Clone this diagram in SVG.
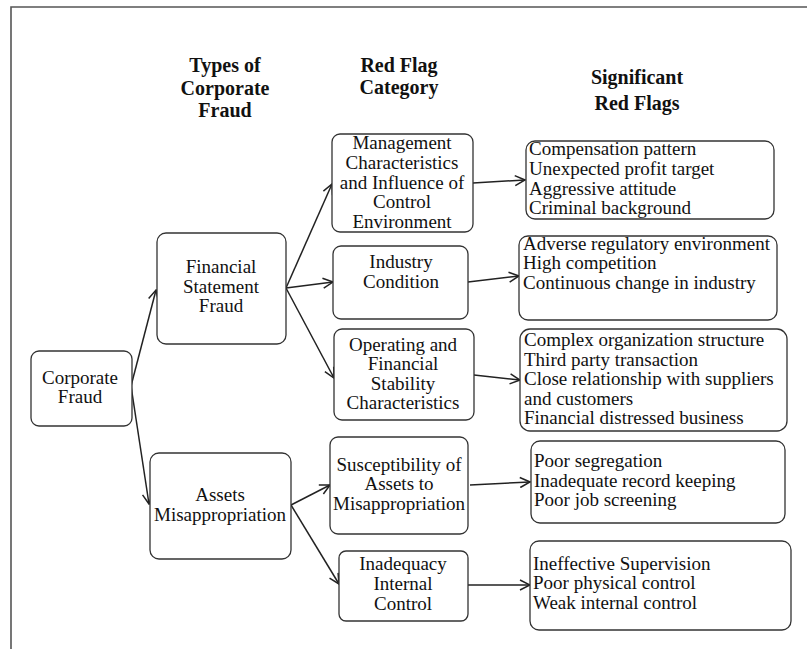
<svg xmlns="http://www.w3.org/2000/svg" width="807" height="649" viewBox="0 0 807 649">
<defs>
<style>
.box{fill:#fff;stroke:#333;stroke-width:1.3}
.t{font-family:"Liberation Serif","Times New Roman",serif;font-size:19px;fill:#111}
.c{text-anchor:middle}
.h{font-family:"Liberation Serif","Times New Roman",serif;font-size:20px;font-weight:bold;fill:#111;text-anchor:middle}
.edge{stroke:#222;stroke-width:1.5;fill:none;marker-end:url(#arr)}
.frame{stroke:#555;stroke-width:1.6;fill:none}
</style>
<marker id="arr" markerUnits="userSpaceOnUse" markerWidth="12" markerHeight="12" viewBox="0 0 12 12" refX="11" refY="6" orient="auto">
<path d="M1,1 L11,6 L1,11" fill="none" stroke="#222" stroke-width="1.5"/>
</marker>
</defs>
<rect width="807" height="649" fill="#fff"/>
<path class="frame" d="M11,649 L11,7 L807,7"/>

<g id="headings">
<text class="h" x="225" y="72">Types of</text>
<text class="h" x="225" y="94.5">Corporate</text>
<text class="h" x="225" y="117">Fraud</text>
<text class="h" x="399" y="71.5">Red Flag</text>
<text class="h" x="399" y="94">Category</text>
<text class="h" x="637" y="84">Significant</text>
<text class="h" x="637" y="110">Red Flags</text>
</g>

<g id="connectors">
<line class="edge" x1="131" y1="386" x2="156" y2="290"/>
<line class="edge" x1="131" y1="386" x2="149" y2="504"/>
<line class="edge" x1="286" y1="288" x2="332" y2="184"/>
<line class="edge" x1="286" y1="288" x2="333" y2="282"/>
<line class="edge" x1="286" y1="288" x2="334" y2="378"/>
<line class="edge" x1="473" y1="183" x2="525" y2="180"/>
<line class="edge" x1="468" y1="282" x2="519" y2="276"/>
<line class="edge" x1="474" y1="375" x2="520" y2="380"/>
<line class="edge" x1="291" y1="505" x2="330" y2="485"/>
<line class="edge" x1="291" y1="505" x2="339" y2="584"/>
<line class="edge" x1="470" y1="485" x2="530" y2="482"/>
<line class="edge" x1="468" y1="585" x2="530" y2="585"/>
</g>

<g id="corporate-fraud">
<rect class="box" x="31" y="351" width="101" height="75" rx="8"/>
<text class="t c" x="80" y="384">Corporate</text>
<text class="t c" x="80" y="403">Fraud</text>
</g>

<g id="financial-statement-fraud">
<rect class="box" x="157" y="233" width="129" height="111" rx="9"/>
<text class="t c" x="221" y="273">Financial</text>
<text class="t c" x="221" y="292.5">Statement</text>
<text class="t c" x="221" y="312">Fraud</text>
</g>

<g id="assets-misappropriation">
<rect class="box" x="150" y="453" width="141" height="106" rx="9"/>
<text class="t c" x="220" y="501">Assets</text>
<text class="t c" x="220" y="521">Misappropriation</text>
</g>

<g id="management">
<rect class="box" x="332" y="134" width="141" height="98" rx="8"/>
<text class="t c" x="402" y="149">Management</text>
<text class="t c" x="402" y="169">Characteristics</text>
<text class="t c" x="402" y="188.5">and Influence of</text>
<text class="t c" x="402" y="208">Control</text>
<text class="t c" x="402" y="227.5">Environment</text>
</g>

<g id="industry-condition">
<rect class="box" x="333" y="246" width="135" height="73" rx="8"/>
<text class="t c" x="401" y="268">Industry</text>
<text class="t c" x="401" y="288">Condition</text>
</g>

<g id="operating-financial">
<rect class="box" x="334" y="329" width="140" height="91" rx="8"/>
<text class="t c" x="403" y="350.5">Operating and</text>
<text class="t c" x="403" y="370">Financial</text>
<text class="t c" x="403" y="389.5">Stability</text>
<text class="t c" x="403" y="409">Characteristics</text>
</g>

<g id="susceptibility">
<rect class="box" x="330" y="437" width="138" height="97" rx="8"/>
<text class="t c" x="399" y="471">Susceptibility of</text>
<text class="t c" x="399" y="490">Assets to</text>
<text class="t c" x="399" y="510">Misappropriation</text>
</g>

<g id="inadequacy">
<rect class="box" x="339" y="551" width="129" height="70" rx="7"/>
<text class="t c" x="403" y="570">Inadequacy</text>
<text class="t c" x="403" y="590">Internal</text>
<text class="t c" x="403" y="610">Control</text>
</g>

<g id="flags-management">
<rect class="box" x="526" y="141" width="248" height="78" rx="9"/>
<text class="t" x="529" y="155">Compensation pattern</text>
<text class="t" x="529" y="175">Unexpected profit target</text>
<text class="t" x="529" y="194.5">Aggressive attitude</text>
<text class="t" x="529" y="214">Criminal background</text>
</g>

<g id="flags-industry">
<rect class="box" x="519" y="236" width="258" height="84" rx="9"/>
<text class="t" x="523" y="249.5">Adverse regulatory environment</text>
<text class="t" x="523" y="269">High competition</text>
<text class="t" x="523" y="288.5">Continuous change in industry</text>
</g>

<g id="flags-operating">
<rect class="box" x="520" y="329" width="267" height="102" rx="10"/>
<text class="t" x="524" y="346">Complex organization structure</text>
<text class="t" x="524" y="365.5">Third party transaction</text>
<text class="t" x="524" y="385">Close relationship with suppliers</text>
<text class="t" x="524" y="404.5">and customers</text>
<text class="t" x="524" y="423.5">Financial distressed business</text>
</g>

<g id="flags-assets">
<rect class="box" x="531" y="441" width="254" height="82" rx="9"/>
<text class="t" x="534" y="467">Poor segregation</text>
<text class="t" x="534" y="486.5">Inadequate record keeping</text>
<text class="t" x="534" y="506">Poor job screening</text>
</g>

<g id="flags-control">
<rect class="box" x="530" y="541" width="261" height="89" rx="9"/>
<text class="t" x="533" y="569.5">Ineffective Supervision</text>
<text class="t" x="533" y="589">Poor physical control</text>
<text class="t" x="533" y="608.5">Weak internal control</text>
</g>
</svg>
